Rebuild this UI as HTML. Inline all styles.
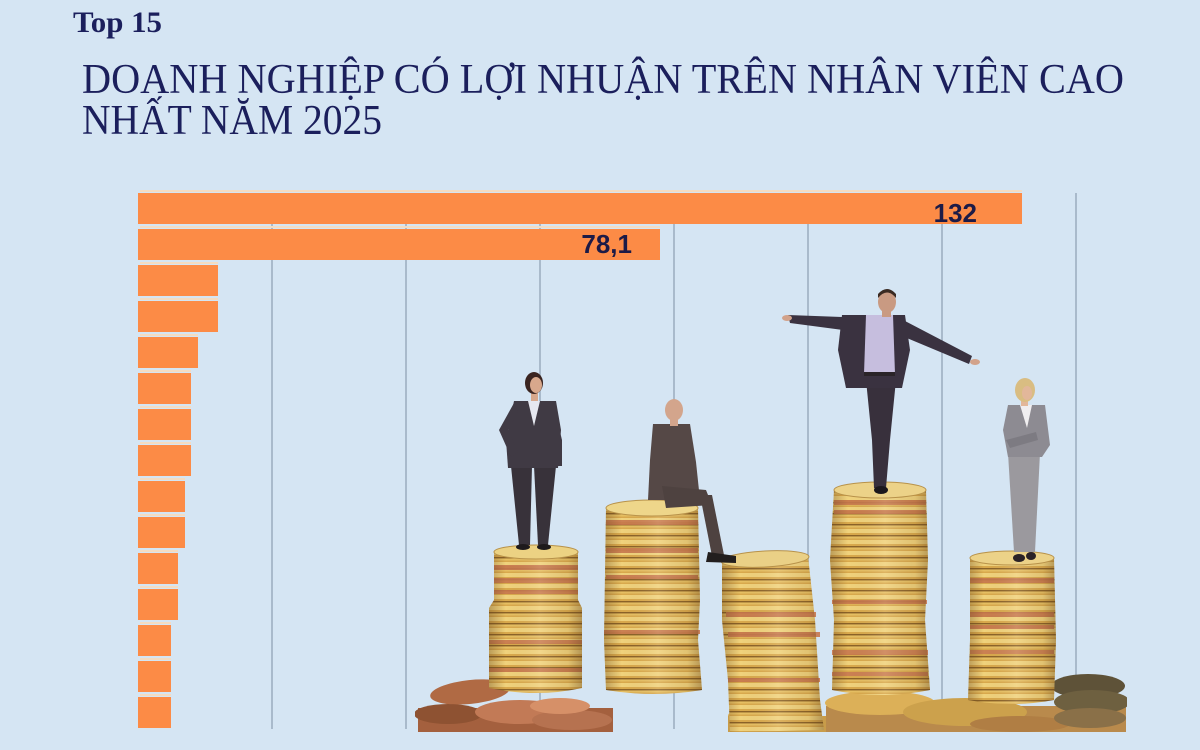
<!DOCTYPE html>
<html>
<head>
<meta charset="utf-8">
<style>
html,body{margin:0;padding:0;background:#d5e5f3;}
svg{display:block;}
</style>
</head>
<body>
<svg width="1200" height="750" viewBox="0 0 1200 750" xmlns="http://www.w3.org/2000/svg">
<defs>
  <pattern id="gold" width="20" height="11" patternUnits="userSpaceOnUse">
    <rect width="20" height="11" fill="#d9a94c"/>
    <rect y="1" width="20" height="4" fill="#f0d27c"/>
    <rect y="7" width="20" height="1.4" fill="#8a6228"/>
    <rect y="8.5" width="20" height="2" fill="#e6bf62"/>
  </pattern>
  <linearGradient id="shade" x1="0" y1="0" x2="1" y2="0">
    <stop offset="0" stop-color="#5a3a18" stop-opacity="0.35"/>
    <stop offset="0.18" stop-color="#5a3a18" stop-opacity="0"/>
    <stop offset="0.55" stop-color="#ffffff" stop-opacity="0.12"/>
    <stop offset="0.85" stop-color="#5a3a18" stop-opacity="0.1"/>
    <stop offset="1" stop-color="#5a3a18" stop-opacity="0.4"/>
  </linearGradient>
  <clipPath id="photo"><rect x="415" y="280" width="712" height="452"/></clipPath>
</defs>

<rect width="1200" height="750" fill="#d5e5f3"/>

<!-- Titles -->
<text x="73" y="32" font-family="Liberation Serif, serif" font-weight="bold" font-size="30" fill="#1b1f5c" textLength="89" lengthAdjust="spacingAndGlyphs">Top 15</text>
<text x="82" y="93" font-family="Liberation Serif, serif" font-size="42" fill="#1b1f5c" textLength="1042" lengthAdjust="spacingAndGlyphs">DOANH NGHIỆP CÓ LỢI NHUẬN TRÊN NHÂN VIÊN CAO</text>
<text x="82" y="134" font-family="Liberation Serif, serif" font-size="42" fill="#1b1f5c" textLength="300" lengthAdjust="spacingAndGlyphs">NHẤT NĂM 2025</text>

<!-- Gridlines -->
<g fill="#a9bacb">
  <rect x="271" y="193" width="2" height="536"/>
  <rect x="405" y="193" width="2" height="536"/>
  <rect x="539" y="193" width="2" height="536"/>
  <rect x="673" y="193" width="2" height="536"/>
  <rect x="807" y="193" width="2" height="536"/>
  <rect x="941" y="193" width="2" height="536"/>
  <rect x="1075" y="193" width="2" height="536"/>
</g>

<!-- Bar separators (pale lines) -->
<g fill="#f4dcc2">
  <rect x="140" y="190" width="882" height="2"/>
  <rect x="140" y="226" width="520" height="2"/>
  <rect x="140" y="262" width="78" height="2"/>
  <rect x="140" y="298" width="78" height="2"/>
  <rect x="140" y="334" width="58" height="2"/>
  <rect x="140" y="370" width="51" height="2"/>
  <rect x="140" y="406" width="51" height="2"/>
  <rect x="140" y="442" width="51" height="2"/>
  <rect x="140" y="478" width="45" height="2"/>
  <rect x="140" y="514" width="45" height="2"/>
  <rect x="140" y="550" width="38" height="2"/>
  <rect x="140" y="586" width="38" height="2"/>
  <rect x="140" y="622" width="31" height="2"/>
  <rect x="140" y="658" width="31" height="2"/>
  <rect x="140" y="694" width="31" height="2"/>
</g>

<!-- Bars -->
<g fill="#fc8b46">
  <rect x="138" y="193" width="884" height="31"/>
  <rect x="138" y="229" width="522" height="31"/>
  <rect x="138" y="265" width="80" height="31"/>
  <rect x="138" y="301" width="80" height="31"/>
  <rect x="138" y="337" width="60" height="31"/>
  <rect x="138" y="373" width="53" height="31"/>
  <rect x="138" y="409" width="53" height="31"/>
  <rect x="138" y="445" width="53" height="31"/>
  <rect x="138" y="481" width="47" height="31"/>
  <rect x="138" y="517" width="47" height="31"/>
  <rect x="138" y="553" width="40" height="31"/>
  <rect x="138" y="589" width="40" height="31"/>
  <rect x="138" y="625" width="33" height="31"/>
  <rect x="138" y="661" width="33" height="31"/>
  <rect x="138" y="697" width="33" height="31"/>
</g>

<!-- Value labels -->
<text x="977" y="222" text-anchor="end" font-family="Liberation Sans, sans-serif" font-weight="bold" font-size="26" fill="#1c1b47">132</text>
<text x="632" y="253" text-anchor="end" font-family="Liberation Sans, sans-serif" font-weight="bold" font-size="26" fill="#1c1b47">78,1</text>

<!-- Photo illustration -->
<g clip-path="url(#photo)">
  <g>
    <ellipse cx="470" cy="692" rx="40" ry="12" fill="#b06a44" transform="rotate(-6 470 692)"/>
    <rect x="418" y="708" width="195" height="24" fill="#a4603e"/>
    <ellipse cx="448" cy="714" rx="34" ry="10" fill="#8e5232"/>
    <ellipse cx="520" cy="712" rx="45" ry="12" fill="#c27a56"/>
    <ellipse cx="572" cy="720" rx="40" ry="10" fill="#b67250"/>
    <ellipse cx="560" cy="706" rx="30" ry="8" fill="#d69068"/>

    <ellipse cx="772" cy="716" rx="44" ry="12" fill="#d6ab52"/>
    <rect x="728" y="716" width="100" height="16" fill="#c89c4a"/>

    <rect x="826" y="706" width="300" height="26" fill="#b98a4c"/>
    <ellipse cx="880" cy="703" rx="55" ry="12" fill="#dcb058"/>
    <ellipse cx="965" cy="712" rx="62" ry="14" fill="#cca14c"/>
    <ellipse cx="1020" cy="724" rx="50" ry="8" fill="#b07e44"/>
    <ellipse cx="1088" cy="686" rx="37" ry="12" fill="#5e5238"/>
    <ellipse cx="1092" cy="702" rx="38" ry="12" fill="#6e6040"/>
    <ellipse cx="1090" cy="718" rx="36" ry="10" fill="#8a7048"/>
  </g>

  <!-- Stack 1 -->
  <path d="M494,552 L578,552 L578,600 L582,608 L582,688 Q537,698 489,688 L489,608 L494,600 Z" fill="url(#gold)"/>
  <g fill="#c7784e" opacity="0.9">
    <rect x="494" y="565" width="84" height="5"/>
    <rect x="494" y="578" width="84" height="5"/>
    <rect x="494" y="590" width="84" height="4"/>
    <rect x="489" y="640" width="93" height="4"/>
    <rect x="489" y="668" width="93" height="4"/>
  </g>
  <path d="M494,552 L578,552 L578,600 L582,608 L582,688 Q537,698 489,688 L489,608 L494,600 Z" fill="url(#shade)"/>
  <ellipse cx="536" cy="552" rx="42" ry="7" fill="#ecd283" stroke="#b8924a" stroke-width="1"/>

  <!-- Stack 2 -->
  <path d="M606,508 L698,508 L700,600 L698,640 L702,690 Q653,698 606,690 L604,640 Z" fill="url(#gold)"/>
  <g fill="#c7784e" opacity="0.9">
    <rect x="606" y="520" width="92" height="5"/>
    <rect x="606" y="548" width="92" height="5"/>
    <rect x="606" y="575" width="92" height="4"/>
    <rect x="604" y="630" width="96" height="4"/>
  </g>
  <path d="M606,508 L698,508 L700,600 L698,640 L702,690 Q653,698 606,690 L604,640 Z" fill="url(#shade)"/>
  <ellipse cx="652" cy="508" rx="46" ry="8" fill="#eed68a" stroke="#b8924a" stroke-width="1"/>

  <!-- Stack 3 -->
  <path d="M722,561 L808,556 L815,620 L820,700 L824,730 L730,732 L728,680 L722,620 Z" fill="url(#gold)"/>
  <g fill="#c7784e" opacity="0.9">
    <rect x="726" y="612" width="90" height="5"/>
    <rect x="728" y="632" width="92" height="5"/>
    <rect x="728" y="678" width="92" height="4"/>
  </g>
  <path d="M722,561 L808,556 L815,620 L820,700 L824,730 L730,732 L728,680 L722,620 Z" fill="url(#shade)"/>
  <ellipse cx="765" cy="559" rx="44" ry="8" fill="#ead086" stroke="#b8924a" stroke-width="1" transform="rotate(-3 765 559)"/>

  <!-- Stack 4 -->
  <path d="M834,490 L926,490 L928,560 L925,620 L930,690 Q880,700 832,690 L834,620 L830,560 Z" fill="url(#gold)"/>
  <g fill="#c7784e" opacity="0.9">
    <rect x="834" y="500" width="92" height="5"/>
    <rect x="834" y="510" width="92" height="4"/>
    <rect x="832" y="600" width="95" height="4"/>
    <rect x="832" y="650" width="96" height="5"/>
    <rect x="832" y="672" width="96" height="4"/>
  </g>
  <path d="M834,490 L926,490 L928,560 L925,620 L930,690 Q880,700 832,690 L834,620 L830,560 Z" fill="url(#shade)"/>
  <ellipse cx="880" cy="490" rx="46" ry="8" fill="#ecd288" stroke="#b8924a" stroke-width="1"/>

  <!-- Stack 5 -->
  <path d="M970,558 L1054,558 L1056,640 L1054,700 Q1012,708 968,700 L970,640 Z" fill="url(#gold)"/>
  <g fill="#c7784e" opacity="0.9">
    <rect x="970" y="578" width="84" height="5"/>
    <rect x="970" y="612" width="84" height="5"/>
    <rect x="970" y="625" width="84" height="4"/>
    <rect x="970" y="650" width="84" height="4"/>
  </g>
  <path d="M970,558 L1054,558 L1056,640 L1054,700 Q1012,708 968,700 L970,640 Z" fill="url(#shade)"/>
  <ellipse cx="1012" cy="558" rx="42" ry="7" fill="#ecd288" stroke="#b8924a" stroke-width="1"/>

  <!-- Woman 1 -->
  <g>
    <path d="M511,466 L532,466 L530,545 L519,545 Z" fill="#38323a"/>
    <path d="M534,466 L556,466 L548,545 L538,545 Z" fill="#38323a"/>
    <ellipse cx="523" cy="547" rx="7" ry="3" fill="#1e1a1c"/>
    <ellipse cx="544" cy="547" rx="7" ry="3" fill="#1e1a1c"/>
    <path d="M514,401 L556,401 L561,430 L558,468 L508,468 L506,440 Z" fill="#403a44"/>
    <path d="M528,401 L540,401 L534,426 Z" fill="#e6e8f0"/>
    <path d="M514,403 L499,430 L511,457 L518,452 L508,430 L518,412 Z" fill="#403a44"/>
    <path d="M553,403 L562,440 L562,466 L556,466 L552,440 Z" fill="#403a44"/>
    <rect x="531" y="391" width="7" height="10" fill="#d8a88c"/>
    <ellipse cx="534" cy="383" rx="9" ry="11" fill="#3a2420"/>
    <ellipse cx="536" cy="385" rx="6" ry="8" fill="#d8a88c"/>
  </g>

  <!-- Man 2 sitting -->
  <g>
    <path d="M700,495 L712,495 L724,555 L712,556 Z" fill="#4e4240"/>
    <path d="M708,552 L736,556 L736,563 L706,562 Z" fill="#221e1e"/>
    <path d="M653,424 L690,424 L696,462 L700,500 L648,500 L650,460 Z" fill="#554846"/>
    <path d="M662,486 L706,490 L712,505 L666,508 Z" fill="#4e4240"/>
    <rect x="670" y="418" width="8" height="8" fill="#d3a58c"/>
    <ellipse cx="674" cy="410" rx="9" ry="11" fill="#d3a58c"/>
  </g>

  <!-- Man 3 balancing -->
  <g>
    <path d="M866,380 L896,380 L890,440 L886,488 L874,488 L872,440 Z" fill="#38303c"/>
    <ellipse cx="881" cy="490" rx="7" ry="4" fill="#1c181c"/>
    <path d="M788,315 L842,317 L843,330 L790,323 Z" fill="#3a3240"/>
    <ellipse cx="787" cy="318" rx="5" ry="3" fill="#d2a28a"/>
    <path d="M905,321 L972,356 L969,364 L902,336 Z" fill="#3a3240"/>
    <ellipse cx="975" cy="362" rx="5" ry="3" fill="#d2a28a"/>
    <path d="M842,315 L905,315 L910,350 L902,388 L846,388 L838,350 Z" fill="#3a3240"/>
    <path d="M866,315 L893,315 L895,374 L864,374 Z" fill="#c6bede"/>
    <rect x="864" y="372" width="31" height="4" fill="#2a2428"/>
    <rect x="882" y="308" width="9" height="9" fill="#c99a82"/>
    <ellipse cx="887" cy="302" rx="9" ry="11" fill="#c99a82"/>
    <path d="M878,298 Q887,287 896,298 L896,294 Q887,284 878,294 Z" fill="#3a2a22"/>
  </g>

  <!-- Woman 4 -->
  <g>
    <path d="M1008,453 L1040,453 L1035,552 L1014,552 Z" fill="#9b999e"/>
    <ellipse cx="1019" cy="558" rx="6" ry="4" fill="#2a2226"/>
    <ellipse cx="1031" cy="556" rx="5" ry="4" fill="#2a2226"/>
    <path d="M1008,405 L1045,405 L1050,445 L1042,457 L1008,457 L1003,430 Z" fill="#8d8b92"/>
    <path d="M1020,405 L1032,405 L1027,428 Z" fill="#f0eef0"/>
    <path d="M1006,440 L1036,432 L1038,440 L1010,448 Z" fill="#7d7b82"/>
    <rect x="1021" y="398" width="7" height="8" fill="#e2b79a"/>
    <ellipse cx="1025" cy="390" rx="10" ry="12" fill="#d9bd82"/>
    <ellipse cx="1027" cy="393" rx="5" ry="7" fill="#e2b79a"/>
  </g>
</g>
</svg>
</body>
</html>
